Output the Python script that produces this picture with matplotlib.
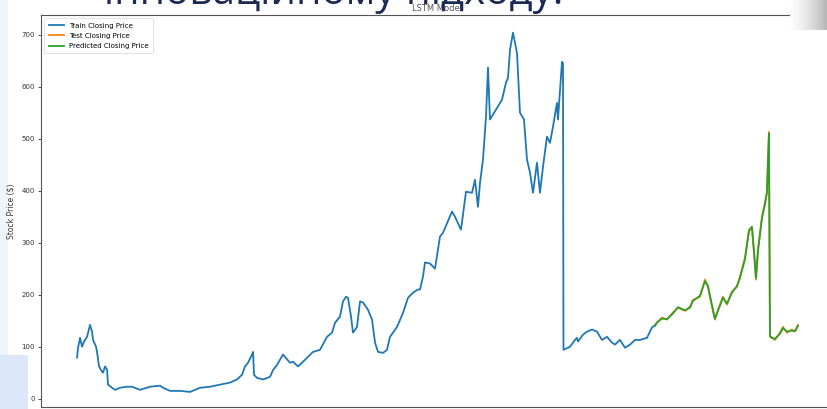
import matplotlib
matplotlib.use("Agg")
import matplotlib.pyplot as plt
import numpy as np
from matplotlib.patches import Rectangle

# ---- data (trading-day index, closing price $) ----
train_days = [0, 2, 6, 10, 14, 20, 26, 30, 32, 38, 40, 44, 50, 52, 56, 60, 62, 70, 76, 86,
              100, 110, 126, 146, 166, 172, 186, 206, 226, 246, 266, 286, 306, 320, 330, 336,
              342, 350, 352, 354, 360, 372, 386, 392, 400, 406, 412, 426, 432, 442, 452, 472,
              486, 500, 510, 516, 526, 532, 538, 542, 548, 552, 560, 566, 572, 582, 590, 596,
              602, 612, 620, 626, 640, 652, 662, 672, 682, 686, 692, 696, 706, 716, 726, 732,
              750, 756, 768, 778, 790, 796, 802, 806, 812, 818, 822, 826, 850, 858, 862, 866,
              872, 880, 886, 894, 900, 906, 912, 920, 926, 932, 940, 946, 952, 960, 962, 970,
              972, 973, 982, 986, 996, 1000, 1002, 1012, 1020, 1030, 1040, 1050, 1060, 1070,
              1076, 1086, 1096, 1106, 1116, 1126, 1140, 1150, 1156]
train_price = [79, 98, 117, 100, 110, 119, 142, 129, 113, 100, 90, 62, 52, 50, 62, 56, 27, 21,
               17, 21, 23, 23, 17, 23, 25, 21, 15, 15, 13, 21, 23, 27, 31, 37, 46, 62,
               69, 85, 90, 46, 40, 37, 42, 55, 65, 75, 85, 69, 71, 62, 71, 90,
               94, 119, 127, 146, 158, 187, 196, 194, 158, 127, 138, 187, 185, 171, 152, 108,
               90, 88, 94, 119, 138, 165, 194, 204, 210, 210, 235, 262, 260, 250, 312, 319,
               360, 350, 325, 398, 396, 421, 369, 415, 460, 542, 637, 537, 575, 608, 617, 671,
               704, 665, 550, 537, 460, 435, 396, 454, 396, 446, 504, 492, 523, 569, 537, 648,
               645, 94, 98, 100, 113, 117, 110, 123, 129, 133, 129, 113, 119, 108,
               104, 113, 98, 104, 113, 113, 117, 137, 141]

test_days = [1156, 1160, 1170, 1180, 1192, 1202, 1216, 1226, 1232, 1246, 1256, 1262, 1270,
             1276, 1282, 1292, 1300, 1310, 1320, 1326, 1336, 1344, 1350, 1354, 1358, 1362,
             1370, 1376, 1380, 1382, 1384, 1386, 1388, 1396, 1406, 1412, 1420, 1430, 1436, 1442]
test_price = [141, 146, 156, 152, 166, 175, 169, 177, 190, 196, 229, 215, 177,
              152, 171, 196, 181, 206, 215, 235, 271, 325, 329, 281, 229, 287,
              350, 377, 396, 460, 513, 119, 119, 113, 127, 138, 127, 133, 129, 142]
pred_price = [140, 147, 154, 153, 164, 176, 170, 175, 188, 198, 226, 217, 180,
              154, 169, 194, 183, 204, 217, 232, 268, 322, 331, 284, 232, 284,
              347, 374, 398, 455, 510, 121, 118, 115, 125, 136, 129, 131, 130, 140]

# ---- figure ----
W, H = 827, 409
fig = plt.figure(figsize=(W / 100, H / 100), dpi=100, facecolor="white")

# slide background strips on the left
fig.patches.append(Rectangle((0, 0), 8 / W, 1, transform=fig.transFigure,
                             facecolor="#eef4fc", edgecolor="none", zorder=-5))
fig.patches.append(Rectangle((0, 0), 28 / W, 54 / H, transform=fig.transFigure,
                             facecolor="#dce8f9", edgecolor="none", zorder=-5))

ax = fig.add_axes([41 / W, 2 / H, (834 - 41) / W, (407 - 15) / H])
ax.plot(train_days, train_price, color="#1f77b4", lw=1.3, label="Train Closing Price")
ax.plot(test_days, test_price, color="#ff7f0e", lw=1.3, label="Test Closing Price")
ax.plot(test_days, pred_price, color="#2ca02c", lw=1.3, label="Predicted Closing Price")

ax.set_ylim(-16, 738)
ax.set_yticks([0, 100, 200, 300, 400, 500, 600, 700])
ax.tick_params(axis="both", labelsize=5, length=2.5, width=0.6, colors="#333333", pad=2)
ax.tick_params(axis="x", labelbottom=False, length=0)
for s in ax.spines.values():
    s.set_color("#555555")
    s.set_linewidth(0.8)
ax.set_ylabel("Stock Price ($)", fontsize=5.5, color="#333333", labelpad=4)
ax.set_title("LSTM Model", fontsize=6, color="#555555", pad=3)
leg = ax.legend(loc="upper left", fontsize=5, frameon=True, handlelength=2.2,
                borderpad=0.6, labelspacing=0.6)
leg.get_frame().set_linewidth(0.5)

# overlay slide text (partly off the top of the picture)
fig.text(104 / W, 1 - 4 / H, "інноваційному підходу.", fontsize=29,
         color="#1b2a55", va="baseline", ha="left", family="Open Sans", zorder=10)

# gray shadow at top-right corner
grad = np.linspace(0, 1, 64)[None, :]
sh = fig.add_axes([790 / W, 1 - 30 / H, 37 / W, 30 / H])
sh.imshow(grad, cmap="Greys", vmin=0, vmax=2.5, aspect="auto")
sh.axis("off")

fig.savefig("out.png", dpi=100, facecolor="white")
